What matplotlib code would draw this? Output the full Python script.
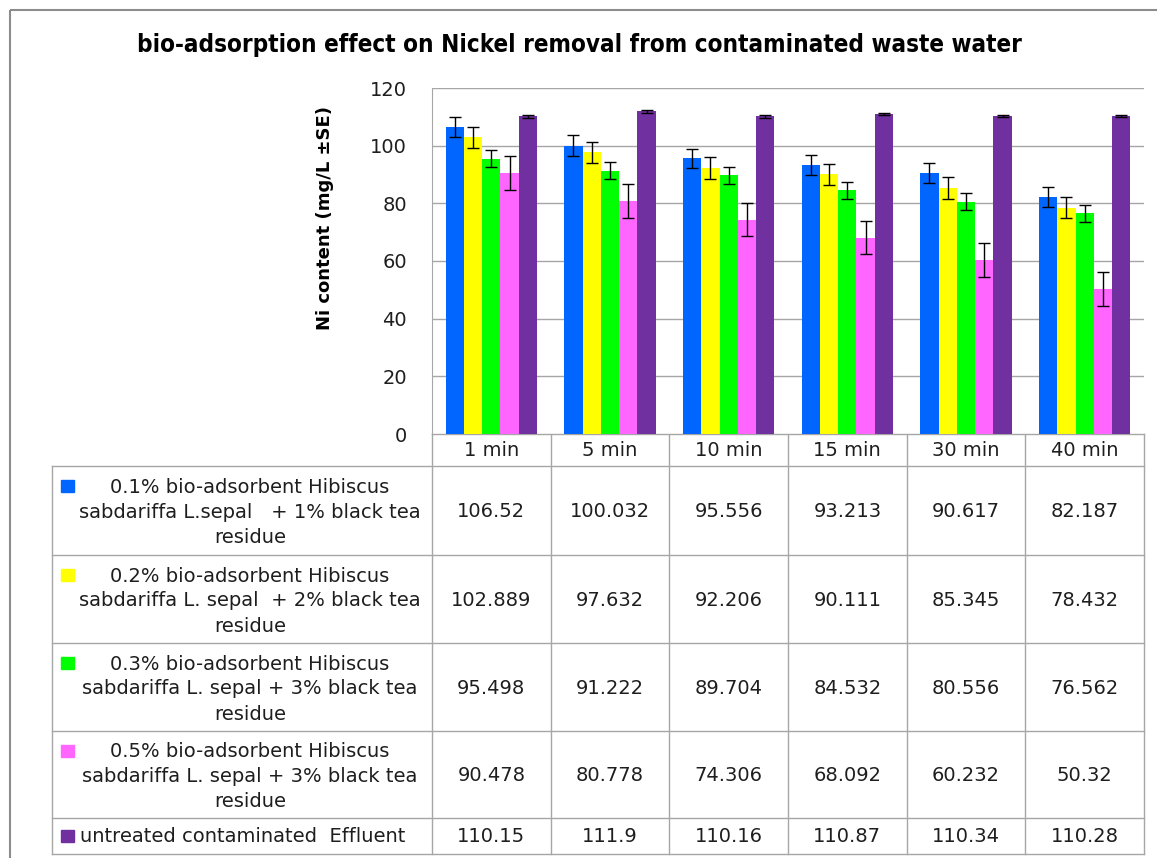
import matplotlib
matplotlib.use("Agg")
import matplotlib.pyplot as plt
from matplotlib.patches import Rectangle
import numpy as np

# ------------------- DATA -------------------
categories = ["1 min", "5 min", "10 min", "15 min", "30 min", "40 min"]
series_names = [
    "0.1% bio-adsorbent Hibiscus\nsabdariffa L.sepal   + 1% black tea\nresidue",
    "0.2% bio-adsorbent Hibiscus\nsabdariffa L. sepal  + 2% black tea\nresidue",
    "0.3% bio-adsorbent Hibiscus\nsabdariffa L. sepal + 3% black tea\nresidue",
    "0.5% bio-adsorbent Hibiscus\nsabdariffa L. sepal + 3% black tea\nresidue",
    "untreated contaminated  Effluent",
]
s1 = [106.52, 100.032, 95.556, 93.213, 90.617, 82.187]
s2 = [102.889, 97.632, 92.206, 90.111, 85.345, 78.432]
s3 = [95.498, 91.222, 89.704, 84.532, 80.556, 76.562]
s4 = [90.478, 80.778, 74.306, 68.092, 60.232, 50.32]
s5 = [110.15, 111.9, 110.16, 110.87, 110.34, 110.28]
# standard errors
se1 = [3.4, 3.6, 3.3, 3.5, 3.5, 3.5]
se2 = [3.6, 3.5, 3.7, 3.7, 3.7, 3.6]
se3 = [2.9, 2.95, 2.95, 2.9, 3.0, 2.95]
se4 = [5.9, 6.0, 5.8, 5.8, 5.9, 5.8]
se5 = [0.4, 0.4, 0.4, 0.4, 0.4, 0.4]
colors = ["#0066FF", "#FFFF00", "#00FF00", "#FF66FF", "#7030A0"]
# --------------------------------------------

W, H = 1157, 858
fig = plt.figure(figsize=(W / 100, H / 100), dpi=100)
FONT = "DejaVu Sans"
GRID = "#A6A6A6"
TXT = "#1E1E1E"
FS = 14

# axes placement in pixels
ax_l, ax_r, ax_t, ax_b = 432, 1144, 88, 434
ax = fig.add_axes([ax_l / W, 1 - ax_b / H, (ax_r - ax_l) / W, (ax_b - ax_t) / H])

all_vals = [s1, s2, s3, s4, s5]
all_se = [se1, se2, se3, se4, se5]
x = np.arange(len(categories))
bw = 0.154
for i, (vals, se, c) in enumerate(zip(all_vals, all_se, colors)):
    ax.bar(x + (i - 2) * bw, vals, bw, color=c, zorder=3,
           yerr=se, capsize=4.3, error_kw=dict(ecolor="black", elinewidth=1.0, capthick=1.0, zorder=4))

ax.set_xlim(-0.5, len(categories) - 0.5)
ax.set_ylim(0, 120)
ax.set_yticks(range(0, 121, 20))
ax.yaxis.grid(True, color=GRID, linewidth=1.0, zorder=0)
ax.set_xticks([])
ax.tick_params(axis="y", length=0, pad=18, labelsize=FS, labelcolor=TXT)
for lbl in ax.get_yticklabels():
    lbl.set_fontfamily(FONT)
for s in ["top", "right", "bottom"]:
    ax.spines[s].set_visible(False)
ax.spines["left"].set_color(GRID)

# overlay for table and text in pixel coords
ov = fig.add_axes([0, 0, 1, 1], zorder=-1)
ov.set_xlim(0, W)
ov.set_ylim(H, 0)
ov.axis("off")

# outer frame
ov.add_patch(Rectangle((10, 10), W + 20, H + 20, fill=False, edgecolor="#8C8C8C", linewidth=1.5))

fig.text(579 / W, 1 - 45 / H, "bio-adsorption effect on Nickel removal from contaminated waste water",
         ha="center", va="center", fontsize=17.4, fontweight="bold", family=FONT, fontstretch="condensed")
fig.text(325 / W, 1 - 218 / H, "Ni content (mg/L ±SE)", rotation=90, ha="center", va="center",
         fontsize=13, fontweight="bold", family=FONT)

# table geometry
col_edges = np.linspace(ax_l, ax_r, len(categories) + 1)
row_edges = [466, 555, 643, 731, 818, 854]
tab_left = 52
lw = 1.0
ov.plot([ax_l, ax_r], [ax_b, ax_b], color=GRID, lw=lw)
for y in row_edges:
    ov.plot([tab_left, ax_r], [y, y], color=GRID, lw=lw)
ov.plot([tab_left, tab_left], [row_edges[0], row_edges[-1]], color=GRID, lw=lw)
for cx in col_edges:
    ov.plot([cx, cx], [ax_b, row_edges[-1]], color=GRID, lw=lw)

# header
for j, cat in enumerate(categories):
    ov.text((col_edges[j] + col_edges[j + 1]) / 2, (ax_b + row_edges[0]) / 2 + 1, cat,
            ha="center", va="center", fontsize=FS, family=FONT, color=TXT)

# rows
for i, (name, vals, c) in enumerate(zip(series_names, all_vals, colors)):
    y0, y1 = row_edges[i], row_edges[i + 1]
    ym = (y0 + y1) / 2
    nlines = name.count("\n") + 1
    if nlines > 1:
        ov.text(250, ym + 2, name, ha="center", va="center", fontsize=FS, family=FONT,
                color=TXT, linespacing=1.4)
        sq_y = y0 + 20
    else:
        ov.text(80, ym + 1, name, ha="left", va="center", fontsize=FS, family=FONT, color=TXT)
        sq_y = ym
    ov.add_patch(Rectangle((61, sq_y - 6), 13, 12, color=c))
    for j, v in enumerate(vals):
        ov.text((col_edges[j] + col_edges[j + 1]) / 2, ym + 1, str(v), ha="center", va="center",
                fontsize=FS, family=FONT, color=TXT)

fig.savefig("out.png", dpi=100)
